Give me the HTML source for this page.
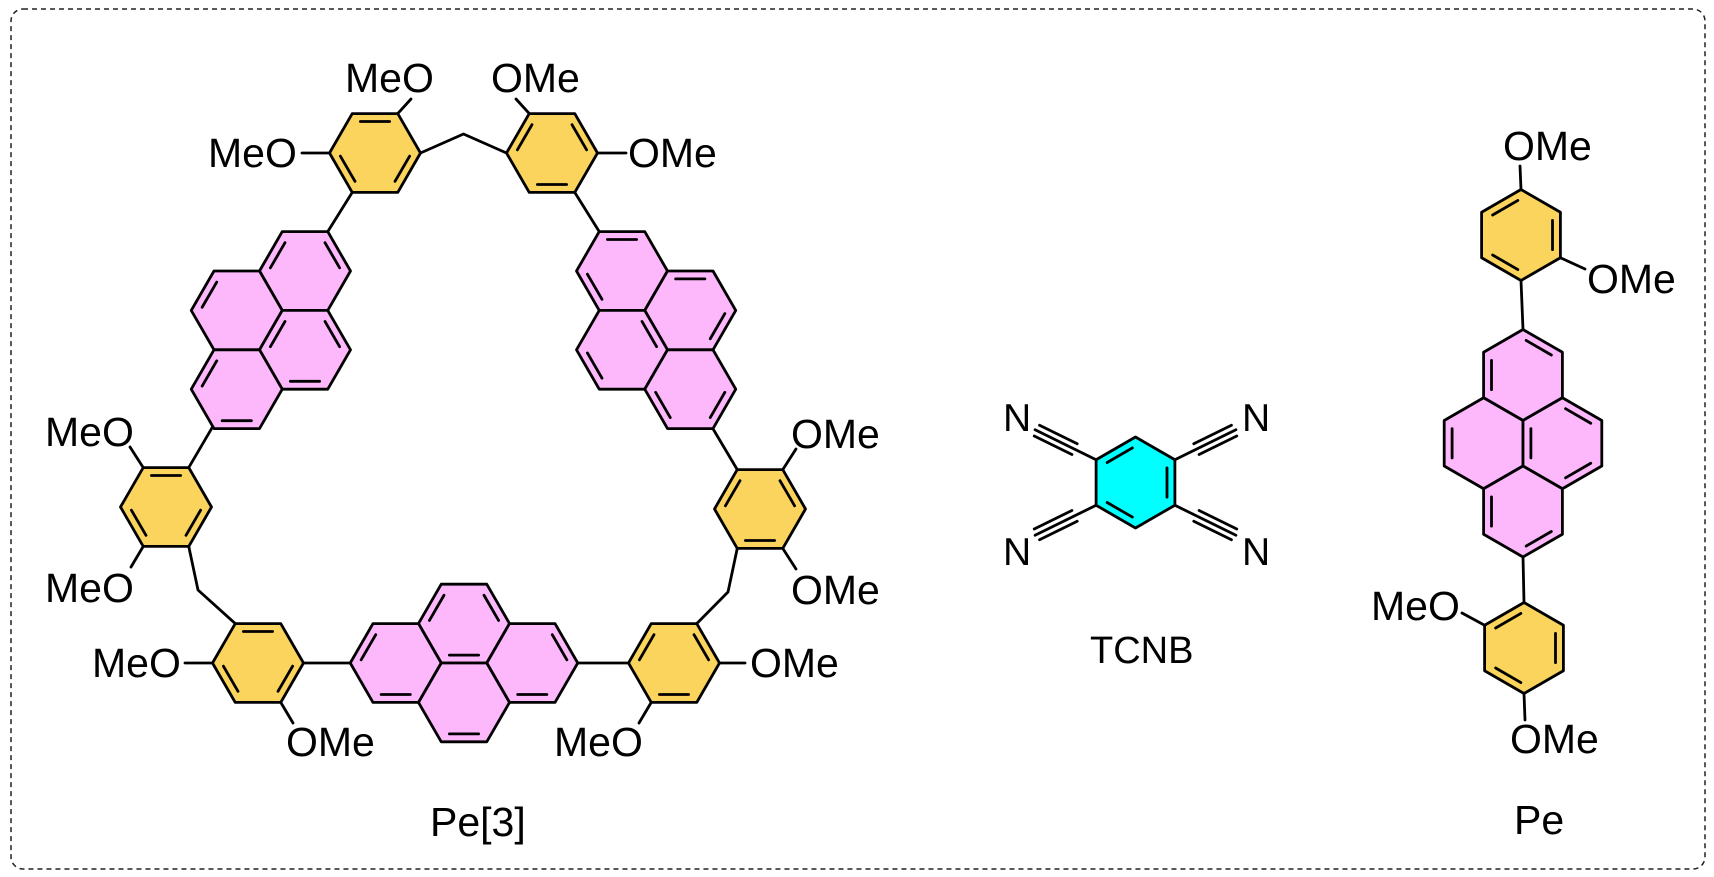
<!DOCTYPE html>
<html><head><meta charset="utf-8"><style>
html,body{margin:0;padding:0;background:#fff;}
svg{display:block}
text{font-family:"Liberation Sans",Arial,sans-serif;font-size:41px;fill:#000;stroke:none}
</style></head><body>
<svg width="1714" height="877" viewBox="0 0 1714 877" xmlns="http://www.w3.org/2000/svg">
<defs>
<polygon id="hx" points="-22.75,-39.4 22.75,-39.4 45.5,0 22.75,39.4 -22.75,39.4 -45.5,0"/>
<line id="e0" x1="-14.6" y1="-31.5" x2="14.6" y2="-31.5"/>
<line id="e1" x1="20" y1="-28.35" x2="34.6" y2="-3.15"/>
<line id="e2" x1="34.6" y1="3.15" x2="20" y2="28.35"/>
<line id="e3" x1="14.6" y1="31.5" x2="-14.6" y2="31.5"/>
<line id="e4" x1="-20" y1="28.35" x2="-34.6" y2="3.15"/>
<line id="e5" x1="-34.6" y1="-3.15" x2="-20" y2="-28.35"/>
<g id="cn"><line x1="0" y1="0" x2="68" y2="0"/><line x1="24" y1="-6" x2="66" y2="-6"/><line x1="24" y1="6" x2="66" y2="6"/></g>
</defs>
<rect x="11" y="9" width="1694" height="860" rx="12" fill="none" stroke="#222" stroke-width="1.5" stroke-dasharray="5,4"/>
<g stroke="#000" stroke-width="2.8" stroke-linejoin="round" stroke-linecap="round" fill="none">
<polyline points="420.5,153 463.5,134 506.5,153"/>
<line x1="352.25" y1="192.4" x2="327.75" y2="231.6"/>
<line x1="574.75" y1="192.4" x2="599.25" y2="231.6"/>
<line x1="397.75" y1="113.6" x2="411" y2="99"/>
<line x1="329.5" y1="153" x2="302" y2="153"/>
<line x1="529.25" y1="113.6" x2="516" y2="99"/>
<line x1="597.5" y1="153" x2="626" y2="153"/>
<line x1="212.25" y1="427.4" x2="188.75" y2="467.6"/>
<line x1="143.25" y1="467.6" x2="130" y2="447"/>
<line x1="143.25" y1="546.4" x2="131" y2="567"/>
<polyline points="188.75,546.4 198,590 235.25,623.6"/>
<line x1="303.5" y1="663" x2="350.5" y2="663"/>
<line x1="212.5" y1="663" x2="185" y2="663"/>
<line x1="280.75" y1="702.4" x2="293" y2="723"/>
<line x1="577.5" y1="663" x2="628.5" y2="663"/>
<line x1="719.5" y1="663" x2="745" y2="663"/>
<line x1="651.25" y1="702.4" x2="639" y2="723"/>
<polyline points="696.75,623.6 728,592 737.25,548.4"/>
<line x1="737.25" y1="469.6" x2="712.75" y2="428.4"/>
<line x1="782.75" y1="469.6" x2="796" y2="449"/>
<line x1="782.75" y1="548.4" x2="796" y2="569"/>
<line x1="1521" y1="189.5" x2="1520" y2="166"/>
<line x1="1560.4" y1="257.75" x2="1585" y2="269"/>
<line x1="1521" y1="280.5" x2="1523" y2="329.5"/>
<line x1="1523" y1="556.5" x2="1524" y2="602.5"/>
<line x1="1484.6" y1="625.25" x2="1462" y2="613"/>
<line x1="1524" y1="693.5" x2="1525" y2="720"/>
<use href="#cn" transform="translate(1096.1,459.75) rotate(206.2)"/>
<use href="#cn" transform="translate(1174.9,459.75) rotate(-26.2)"/>
<use href="#cn" transform="translate(1096.1,505.25) rotate(153.8)"/>
<use href="#cn" transform="translate(1174.9,505.25) rotate(26.2)"/>

<g transform="translate(375,153)"><use href="#hx" fill="#FAD45C"/><use href="#e0"/><use href="#e2"/><use href="#e4"/></g>
<g transform="translate(552,153)"><use href="#hx" fill="#FAD45C"/><use href="#e1"/><use href="#e3"/><use href="#e5"/></g>
<g transform="translate(166,507)"><use href="#hx" fill="#FAD45C"/><use href="#e0"/><use href="#e2"/><use href="#e4"/></g>
<g transform="translate(760,509)"><use href="#hx" fill="#FAD45C"/><use href="#e1"/><use href="#e3"/><use href="#e5"/></g>
<g transform="translate(258,663)"><use href="#hx" fill="#FAD45C"/><use href="#e0"/><use href="#e2"/><use href="#e4"/></g>
<g transform="translate(674,663)"><use href="#hx" fill="#FAD45C"/><use href="#e1"/><use href="#e3"/><use href="#e5"/></g>

<g transform="translate(305,271)"><use href="#hx" fill="#FDB8FC"/><use href="#e1"/><use href="#e5"/></g>
<g transform="translate(236.75,310.4)"><use href="#hx" fill="#FDB8FC"/><use href="#e5"/></g>
<g transform="translate(305,349.8)"><use href="#hx" fill="#FDB8FC"/><use href="#e1"/><use href="#e3"/><use href="#e5"/></g>
<g transform="translate(236.75,389.2)"><use href="#hx" fill="#FDB8FC"/><use href="#e3"/><use href="#e5"/></g>
<g transform="translate(622,271)"><use href="#hx" fill="#FDB8FC"/><use href="#e0"/><use href="#e4"/></g>
<g transform="translate(690.25,310.4)"><use href="#hx" fill="#FDB8FC"/><use href="#e0"/><use href="#e2"/></g>
<g transform="translate(622,349.8)"><use href="#hx" fill="#FDB8FC"/><use href="#e1"/><use href="#e4"/></g>
<g transform="translate(690.25,389.2)"><use href="#hx" fill="#FDB8FC"/><use href="#e2"/><use href="#e4"/></g>
<g transform="translate(464,623.6)"><use href="#hx" fill="#FDB8FC"/><use href="#e1"/><use href="#e3"/><use href="#e5"/></g>
<g transform="translate(395.75,663)"><use href="#hx" fill="#FDB8FC"/><use href="#e3"/><use href="#e5"/></g>
<g transform="translate(532.25,663)"><use href="#hx" fill="#FDB8FC"/><use href="#e1"/><use href="#e3"/></g>
<g transform="translate(464,702.4)"><use href="#hx" fill="#FDB8FC"/><use href="#e3"/></g>

<g transform="translate(1135.5,482.5) rotate(90)"><use href="#hx" fill="#00FFFF"/><use href="#e0"/><use href="#e2"/><use href="#e4"/></g>

<g transform="translate(1521,235) rotate(90)"><use href="#hx" fill="#FAD45C"/><use href="#e0"/><use href="#e2"/><use href="#e4"/></g>
<g transform="translate(1523,375) rotate(90)"><use href="#hx" fill="#FDB8FC"/><use href="#e3"/><use href="#e5"/></g>
<g transform="translate(1483.6,443.25) rotate(90)"><use href="#hx" fill="#FDB8FC"/><use href="#e3"/></g>
<g transform="translate(1562.4,443.25) rotate(90)"><use href="#hx" fill="#FDB8FC"/><use href="#e1"/><use href="#e3"/><use href="#e5"/></g>
<g transform="translate(1523,511.5) rotate(90)"><use href="#hx" fill="#FDB8FC"/><use href="#e1"/><use href="#e3"/></g>
<g transform="translate(1524,648) rotate(90)"><use href="#hx" fill="#FAD45C"/><use href="#e0"/><use href="#e2"/><use href="#e4"/></g>
</g>

<text x="345" y="92">MeO</text>
<text x="491" y="92">OMe</text>
<text x="208" y="167">MeO</text>
<text x="628" y="167">OMe</text>
<text x="45" y="446">MeO</text>
<text x="45" y="602">MeO</text>
<text x="791" y="448">OMe</text>
<text x="791" y="604">OMe</text>
<text x="92" y="677">MeO</text>
<text x="286" y="756">OMe</text>
<text x="750" y="677">OMe</text>
<text x="554" y="756">MeO</text>
<text x="430" y="836">Pe[3]</text>

<text x="1003" y="431" style="font-size:39px">N</text>
<text x="1242" y="431" style="font-size:39px">N</text>
<text x="1003" y="565" style="font-size:39px">N</text>
<text x="1242" y="565" style="font-size:39px">N</text>
<text x="1090" y="663" style="font-size:38px">TCNB</text>

<text x="1503" y="160">OMe</text>
<text x="1587" y="293">OMe</text>
<text x="1371" y="620">MeO</text>
<text x="1510" y="753">OMe</text>
<text x="1514" y="834">Pe</text>
</svg>
</body></html>
